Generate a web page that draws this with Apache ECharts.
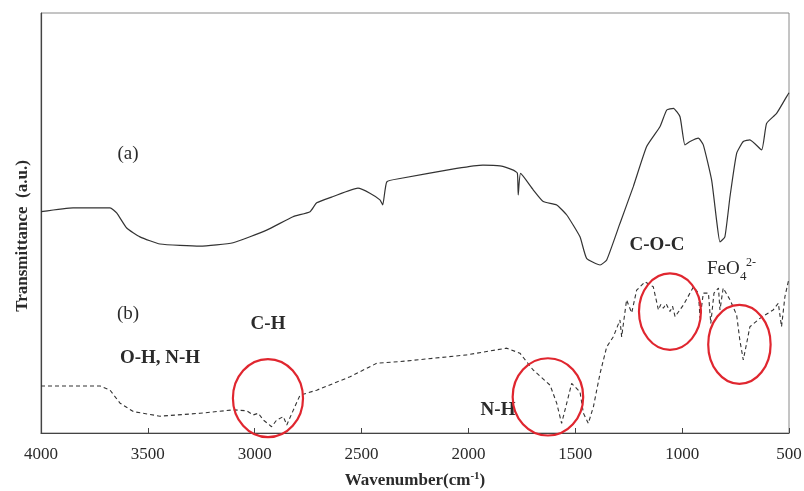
<!DOCTYPE html>
<html>
<head>
<meta charset="utf-8">
<title>FTIR spectra</title>
<script src="https://cdn.jsdelivr.net/npm/echarts@6/dist/echarts.min.js"></script>
<style>
  html, body { margin: 0; padding: 0; background: #fff; overflow: hidden; }
  #chart { width: 804px; height: 491px; }
</style>
</head>
<body>
<div id="chart"></div>
<script>
// Wavenumber axis ticks (cm^-1), drawn high to low
const wavenumberTicks = [4000, 3500, 3000, 2500, 2000, 1500, 1000, 500];

// Spectrum (a): wavenumber (cm^-1) and transmittance (a.u.)
const wavenumberA = [4000, 3850, 3677, 3646, 3599, 3537, 3443, 3256, 3101, 2944,
  2821, 2741, 2710, 2633, 2517, 2461, 2414, 2401, 2382, 2320,
  2055, 1932, 1852, 1790, 1771, 1767, 1756, 1697, 1650, 1587,
  1540, 1478, 1447, 1384, 1353, 1291, 1229, 1166, 1104, 1072,
  1041, 1010, 987, 963, 924, 901, 862, 839, 823, 800,
  776, 745, 714, 683, 628, 605, 558, 511, 500];
const transmittanceA = [52.7, 53.6, 53.6, 52.4, 48.8, 46.7, 45.0, 44.5, 45.3, 48.3,
  51.5, 52.7, 54.8, 56.3, 58.3, 57.1, 55.5, 54.3, 59.8, 60.6,
  63.0, 63.8, 63.6, 62.6, 61.9, 56.7, 61.8, 57.9, 55.1, 54.3,
  51.9, 46.7, 41.6, 40.0, 41.2, 49.9, 58.6, 68.2, 72.9, 76.9,
  77.3, 75.3, 68.6, 69.4, 70.2, 68.6, 60.2, 50.7, 45.5, 46.7,
  56.3, 66.6, 69.4, 69.8, 67.4, 73.7, 76.1, 80.1, 81.0];

// Spectrum (b): wavenumber (cm^-1) and transmittance (a.u.)
const wavenumberB = [4000, 3724, 3677, 3630, 3568, 3443, 3256, 3100, 3038, 3007,
  2983, 2960, 2921, 2897, 2866, 2850, 2819, 2788, 2710, 2554,
  2429, 2320, 2008, 1821, 1759, 1697, 1618, 1587, 1564, 1540,
  1517, 1478, 1462, 1439, 1415, 1384, 1353, 1322, 1291, 1283,
  1260, 1236, 1213, 1174, 1135, 1111, 1100, 1088, 1075, 1057,
  1045, 1033, 994, 947, 924, 916, 901, 877, 866, 851,
  830, 823, 808, 776, 745, 730, 714, 698, 683, 636,
  574, 550, 535, 519, 500];
const transmittanceB = [11.2, 11.2, 10.2, 7.1, 5.1, 4.0, 4.7, 5.5, 5.3, 4.3,
  4.7, 3.1, 1.5, 3.1, 3.9, 1.9, 5.5, 9.0, 10.2, 13.4,
  16.6, 17.0, 18.6, 20.2, 19.0, 15.0, 11.4, 7.1, 2.3, 7.1,
  11.8, 9.8, 4.7, 2.3, 6.3, 14.2, 20.5, 22.9, 26.9, 22.9,
  31.7, 28.6, 34.0, 36.0, 34.8, 29.3, 30.6, 29.7, 30.8, 28.9,
  30.2, 27.7, 30.5, 34.8, 33.3, 27.3, 33.3, 33.3, 26.1, 33.3,
  34.5, 29.3, 34.5, 31.7, 28.1, 22.1, 17.4, 21.4, 25.3, 27.3,
  29.3, 30.9, 25.3, 32.5, 36.8];

// Highlighted absorption bands: centre (cm^-1, a.u.) and half-extent (cm^-1, a.u.)
const bandCentreWn = [2938, 1628, 1057, 732];
const bandCentreT = [8.3, 8.6, 28.9, 21.1];
const bandHalfWn = [164, 165, 145, 146];
const bandHalfT = [9.3, 9.2, 9.1, 9.4];

const zip = (xs, ys) => xs.map((x, i) => [x, ys[i]]);

const serif = '"Liberation Serif", "Times New Roman", serif';
const ink = '#2a2a2a';

const chart = echarts.init(document.getElementById('chart'), null, { renderer: 'canvas' });

function bandLabel(text, x, y, opts) {
  opts = opts || {};
  return {
    type: 'text',
    x: x, y: y,
    silent: true,
    style: {
      text: text,
      font: (opts.weight || 'bold') + ' ' + (opts.size || 19) + 'px ' + serif,
      fill: ink,
      align: opts.align || 'center',
      verticalAlign: 'middle'
    }
  };
}

chart.setOption({
  backgroundColor: '#ffffff',
  animation: false,
  grid: {
    left: 41, right: 15, top: 13, bottom: 58,
    outerBoundsMode: 'none',
    containLabel: false,
    show: true, borderColor: '#8a8a8a', borderWidth: 1
  },
  xAxis: {
    type: 'value',
    inverse: true,
    min: Math.min.apply(null, wavenumberTicks),
    max: Math.max.apply(null, wavenumberTicks),
    interval: wavenumberTicks[0] - wavenumberTicks[1],
    axisLine: { show: true, lineStyle: { color: '#444', width: 1.2 } },
    axisTick: { show: true, inside: true, length: 5, lineStyle: { color: '#444' } },
    splitLine: { show: false },
    axisLabel: {
      margin: 13,
      fontFamily: serif,
      fontSize: 17,
      color: ink,
      formatter: (v) => String(v)
    },
    name: '{t|Wavenumber(cm}{s|-1}{t|)}',
    nameLocation: 'middle',
    nameGap: 38,
    nameTextStyle: {
      rich: {
        t: { fontFamily: serif, fontSize: 17, fontWeight: 'bold', color: ink, lineHeight: 20 },
        s: { fontFamily: serif, fontSize: 11, fontWeight: 'bold', color: ink, lineHeight: 20, verticalAlign: 'top', padding: [0, 0, 6, 0] }
      }
    }
  },
  yAxis: {
    type: 'value',
    min: 0,
    max: 100,
    axisLine: { show: true, lineStyle: { color: '#444', width: 1.2 } },
    axisTick: { show: false },
    axisLabel: { show: false },
    splitLine: { show: false }
  },
  series: [
    {
      name: '(a)',
      type: 'line',
      data: zip(wavenumberA, transmittanceA),
      showSymbol: false,
      smooth: 0.15,
      lineStyle: { color: '#333', width: 1.2 },
      silent: true
    },
    {
      name: '(b)',
      type: 'line',
      data: zip(wavenumberB, transmittanceB),
      showSymbol: false,
      lineStyle: { color: '#333', width: 1.1, type: [4, 3] },
      silent: true
    },
    {
      name: 'bands',
      type: 'custom',
      silent: true,
      clip: false,
      encode: { x: 0, y: 1 },
      data: bandCentreWn.map((w, i) => [w, bandCentreT[i], bandHalfWn[i], bandHalfT[i]]),
      renderItem: function (params, api) {
        const c = api.coord([api.value(0), api.value(1)]);
        const s = api.size([api.value(2), api.value(3)]);
        return {
          type: 'ellipse',
          shape: { cx: c[0], cy: c[1], rx: Math.abs(s[0]), ry: Math.abs(s[1]) },
          style: { fill: 'none', stroke: '#e0262f', lineWidth: 2.2 }
        };
      },
      z: 5
    }
  ],
  graphic: [
    {
      type: 'text',
      x: 23, y: 236,
      rotation: Math.PI / 2,
      silent: true,
      style: {
        text: 'Transmittance  (a.u.)',
        font: 'bold 17px ' + serif,
        fill: ink,
        align: 'center',
        verticalAlign: 'middle'
      }
    },
    bandLabel('(a)', 128, 154, { weight: 'normal', size: 19 }),
    bandLabel('(b)', 128, 314, { weight: 'normal', size: 19 }),
    bandLabel('C-H', 268, 324),
    bandLabel('O-H, N-H', 160, 358),
    bandLabel('N-H', 498, 410),
    bandLabel('C-O-C', 657, 245),
    bandLabel('FeO', 707, 269, { weight: 'normal', align: 'left' }),
    bandLabel('4', 740, 277, { weight: 'normal', size: 13, align: 'left' }),
    bandLabel('2-', 746, 263, { weight: 'normal', size: 12, align: 'left' })
  ]
});
</script>
</body>
</html>
